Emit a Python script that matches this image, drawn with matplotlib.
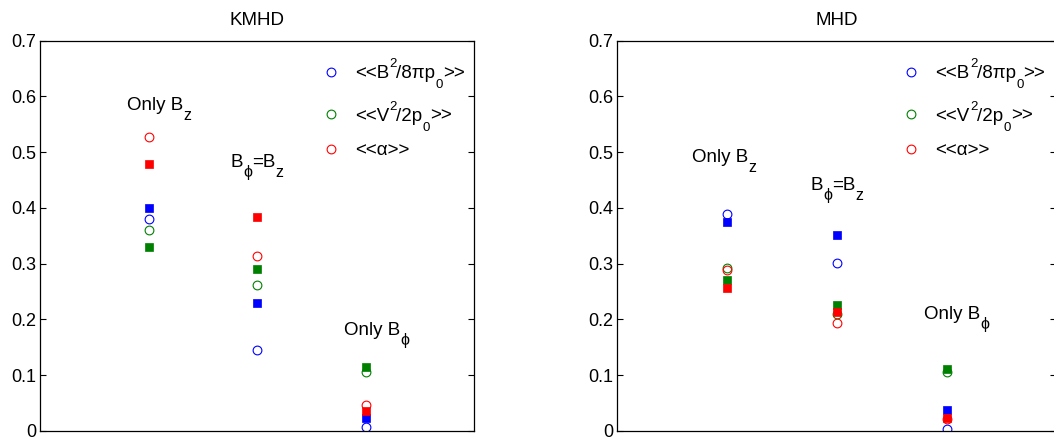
import numpy as np
import matplotlib.pyplot as plt
from matplotlib.ticker import FormatStrFormatter

plt.rcParams['font.family'] = ['Liberation Sans', 'DejaVu Sans']

# x position of the three field configurations
cases = [1, 2, 3]

# KMHD run
kmhd_mag_open = [0.380, 0.146, 0.008]
kmhd_mag_fill = [0.400, 0.230, 0.024]
kmhd_kin_open = [0.360, 0.262, 0.105]
kmhd_kin_fill = [0.330, 0.291, 0.115]
kmhd_alp_open = [0.527, 0.313, 0.047]
kmhd_alp_fill = [0.478, 0.383, 0.036]

# MHD run
mhd_mag_open = [0.390, 0.302, 0.004]
mhd_mag_fill = [0.375, 0.351, 0.038]
mhd_kin_open = [0.293, 0.210, 0.106]
mhd_kin_fill = [0.271, 0.226, 0.111]
mhd_alp_open = [0.288, 0.194, 0.021]
mhd_alp_fill = [0.257, 0.214, 0.023]

titles = ['KMHD', 'MHD']
colors = ['#0000ff', '#008000', '#ff0000']
yticks = [0, 0.1, 0.2, 0.3, 0.4, 0.5, 0.6, 0.7]

# legend entries: list of (text, shift in px, fontsize)
legend_labels = [
    [('<<B', 0, 13.5), ('2', 11, 9.5), ('/8πp', 0, 13.5), ('0', -10, 9.5), ('>>', 0, 13.5)],
    [('<<V', 0, 13.5), ('2', 11, 9.5), ('/2p', 0, 13.5), ('0', -10, 9.5), ('>>', 0, 13.5)],
    [('<<α>>', 0, 13.5)],
]

# case labels and where they sit (data coords, baseline)
case_labels = [
    [('Only B', 0, 13.5), ('z', -10, 11.5)],
    [('B', 0, 13.5), ('ϕ', -10, 11.5), ('=B', 0, 13.5), ('z', -10, 11.5)],
    [('Only B', 0, 13.5), ('ϕ', -10, 11.5)],
]
kmhd_label_xy = [(0.805, 0.576), (1.758, 0.474), (2.805, 0.173)]
mhd_label_xy = [(0.681, 0.483), (1.763, 0.432), (2.796, 0.200)]


def rich_text(ax, x, y, parts, coords):
    # draw text pieces one after the other, scripts shifted up/down
    renderer = ax.figure.canvas.get_renderer()
    dx = 0.0
    for s, dy, size in parts:
        t = ax.annotate(s, xy=(x, y), xycoords=coords, xytext=(dx, dy),
                        textcoords='offset pixels', ha='left', va='baseline',
                        fontsize=size, annotation_clip=False)
        w, h, d = renderer.get_text_width_height_descent(
            s, t.get_fontproperties(), ismath=False)
        dx += w


fig = plt.figure(figsize=(10.54, 4.42), dpi=100)
ax1 = fig.add_axes([0.0380, 0.0249, 0.4118, 0.8831])
ax2 = fig.add_axes([0.5857, 0.0249, 0.4165, 0.8831])

runs = [
    (ax1, [kmhd_mag_open, kmhd_kin_open, kmhd_alp_open],
     [kmhd_mag_fill, kmhd_kin_fill, kmhd_alp_fill], kmhd_label_xy),
    (ax2, [mhd_mag_open, mhd_kin_open, mhd_alp_open],
     [mhd_mag_fill, mhd_kin_fill, mhd_alp_fill], mhd_label_xy),
]

for i, (ax, opens, fills, label_xy) in enumerate(runs):
    for c, yo, yf in zip(colors, opens, fills):
        ax.plot(cases, yo, 'o', ls='none', mfc='none', mec=c, ms=6.3, mew=0.8)
        ax.plot(cases, yf, 's', ls='none', mfc=c, mec=c, ms=5.8, mew=0.5)

    ax.set_xlim(0, 4)
    ax.set_ylim(0, 0.7)
    ax.set_xticks([])
    ax.set_yticks(yticks)
    ax.yaxis.set_major_formatter(FormatStrFormatter('%g'))
    ax.tick_params(axis='y', direction='in', left=True, right=True,
                   length=4, width=0.8, labelsize=13, pad=3)
    for sp in ax.spines.values():
        sp.set_linewidth(0.9)
    ax.set_title(titles[i], fontsize=13.5, pad=11)

    for parts, (tx, ty) in zip(case_labels, label_xy):
        rich_text(ax, tx, ty, parts, 'data')

    # legend, open circles only
    rows = [0.9206, 0.812, 0.7225]
    for c, ry, parts in zip(colors, rows, legend_labels):
        ax.plot([0.67], [ry], 'o', transform=ax.transAxes, mfc='none',
                mec=c, ms=6.3, mew=0.8, clip_on=False)
        rich_text(ax, 0.725, ry, [(s, dy - 6.5, fs) for s, dy, fs in parts],
                  'axes fraction')

fig.savefig('out.png', dpi=100)
